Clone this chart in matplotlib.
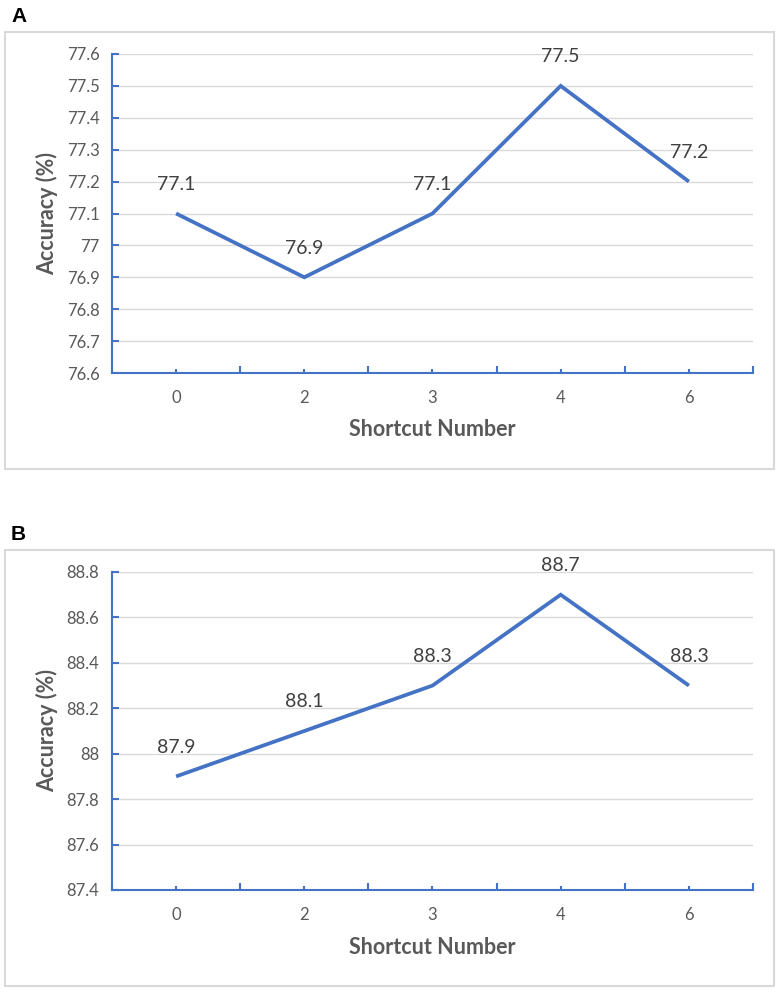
import matplotlib.pyplot as plt
from matplotlib.patches import Rectangle

#----- DATA -----
shortcuts = ['0', '2', '3', '4', '6']
acc_a = [77.1, 76.9, 77.1, 77.5, 77.2]
acc_b = [87.9, 88.1, 88.3, 88.7, 88.3]
yticks_a = [76.6, 76.7, 76.8, 76.9, 77.0, 77.1, 77.2, 77.3, 77.4, 77.5, 77.6]
yticks_b = [87.4, 87.6, 87.8, 88.0, 88.2, 88.4, 88.6, 88.8]
ylabels_a = ['76.6', '76.7', '76.8', '76.9', '77', '77.1', '77.2', '77.3', '77.4', '77.5', '77.6']
ylabels_b = ['87.4', '87.6', '87.8', '88', '88.2', '88.4', '88.6', '88.8']

#----- STYLE -----
plt.rcParams['font.family'] = ['Lato', 'DejaVu Sans']
blue = '#4472C4'
grey = '#595959'
W, H = 780, 993

fig = plt.figure(figsize=(W/100, H/100), dpi=100)

def box(x0, y0, x1, y1):
    fig.patches.append(Rectangle((x0/W, 1-y1/H), (x1-x0)/W, (y1-y0)/H,
                                 transform=fig.transFigure, fill=False,
                                 edgecolor='#D9D9D9', linewidth=1.5))

def panel(letter, top, bottom, boxtop, boxbot, vals, yt, yl):
    box(5, boxtop, 774, boxbot)
    fig.text(11/W, 1-(boxtop-16)/H, letter, fontsize=15, fontweight='bold',
             ha='left', va='center', family='Liberation Sans')
    ax = fig.add_axes([112/W, 1-bottom/H, 641/W, (bottom-top)/H])
    x = list(range(len(vals)))
    ax.plot(x, vals, color=blue, linewidth=2.7, solid_joinstyle='miter',
            solid_capstyle='butt', zorder=3)
    for xi, v in zip(x, vals):
        ax.annotate(f'{v:g}', (xi, v), xytext=(0, 21), textcoords='offset points',
                    ha='center', va='center', fontsize=14, color='#404040')
    ax.set_xlim(-0.5, len(vals)-0.5)
    ax.set_ylim(yt[0], yt[-1])
    ax.set_yticks(yt)
    ax.set_yticklabels(yl)
    ax.set_xticks([i-0.5 for i in range(len(vals)+1)])
    ax.set_xticklabels([])
    ax.set_xticks(x, minor=True)
    ax.set_xticklabels(shortcuts, minor=True)
    ax.tick_params(axis='x', which='major', direction='in', length=5, width=1.5,
                   color=blue)
    ax.tick_params(axis='x', which='minor', direction='in', length=3, width=1.5,
                   color=blue, labelsize=12, labelcolor=grey, pad=12)
    ax.tick_params(axis='y', direction='in', length=5, width=1.5, color=blue,
                   labelsize=12, labelcolor=grey, pad=9)
    ax.grid(axis='y', color='#D9D9D9', linewidth=1)
    ax.set_axisbelow(True)
    for s in ['top', 'right']:
        ax.spines[s].set_visible(False)
    for s in ['left', 'bottom']:
        ax.spines[s].set_color(blue)
        ax.spines[s].set_linewidth(1.5)
    ax.set_xlabel('Shortcut Number', fontsize=15.5, fontweight='bold', color=grey,
                  va='center')
    ax.xaxis.set_label_coords(0.5, -57/(bottom-top))
    ax.set_ylabel('Accuracy (%)', fontsize=15.5, fontweight='bold', color=grey,
                  va='center')
    ax.yaxis.set_label_coords(-65/641, 0.5)
    return ax

panel('A', 54, 373, 32, 469, acc_a, yticks_a, ylabels_a)
panel('B', 572, 890, 550, 986, acc_b, yticks_b, ylabels_b)

fig.savefig('out.png', dpi=100)
